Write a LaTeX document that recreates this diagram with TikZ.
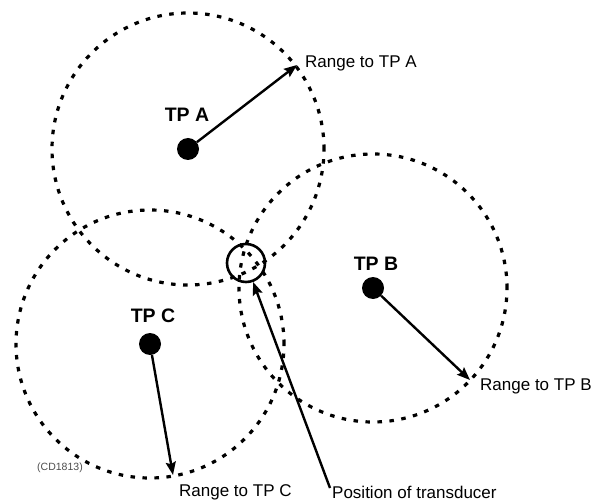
\documentclass[tikz,border=0pt]{standalone}
\usepackage{fontspec}
\setmainfont{Liberation Sans}
\usetikzlibrary{arrows.meta}
\begin{document}
\begin{tikzpicture}[x=1pt,y=-1pt,
  dotcircle/.style={line width=3.2pt,dash pattern=on 4.5pt off 7.5pt},
  tpdot/.style={circle,fill=black,inner sep=0pt,minimum size=22pt},
  rangearrow/.style={line width=2.4pt,-{Stealth[length=13pt,width=10pt,inset=2pt]}},
  rangelabel/.style={anchor=west,inner sep=0pt,font=\fontsize{17}{20}\selectfont},
  tplabel/.style={inner sep=0pt,font=\fontsize{19.5}{22}\selectfont\bfseries},
  posring/.style={circle,draw,line width=2.6pt,inner sep=0pt,minimum size=38pt}]
\useasboundingbox (0,0) rectangle (593,502);
% transmitter points
\node[tpdot] (A) at (188,149) {};
\node[tpdot] (B) at (373,288) {};
\node[tpdot] (C) at (150,344) {};
% range circles
\draw[dotcircle] (A.center) circle[radius=136pt];
\draw[dotcircle] (B.center) circle[radius=134pt];
\draw[dotcircle] (C.center) circle[radius=134pt];
% position of transducer
\node[posring] (T) at (246,263) {};
% arrow ends
\coordinate (ra) at (297,65);
\coordinate (rb) at (470,380);
\coordinate (rc) at (173,475);
\coordinate (pt) at (330,488);
\draw[rangearrow] (A) -- (ra);
\draw[rangearrow] (B) -- (rb);
\draw[rangearrow] (C) -- (rc);
\draw[rangearrow] (pt) -- (T);
% labels
\node[tplabel] (la) at (187,115) {TP A};
\node[tplabel] (lb) at (376,264) {TP B};
\node[tplabel] (lc) at (153,316) {TP C};
\node[rangelabel] (ta) at (305,63) {Range to TP A};
\node[rangelabel] (tb) at (480,386) {Range to TP B};
\node[rangelabel] (tc) at (179,492) {Range to TP C};
\node[rangelabel] (tp) at (332,492) {Position of transducer};
\node[anchor=center,inner sep=0pt,text=black!70,font=\fontsize{10.5}{12}\selectfont] (cd) at (60,468) {(CD1813)};
\end{tikzpicture}
\end{document}
